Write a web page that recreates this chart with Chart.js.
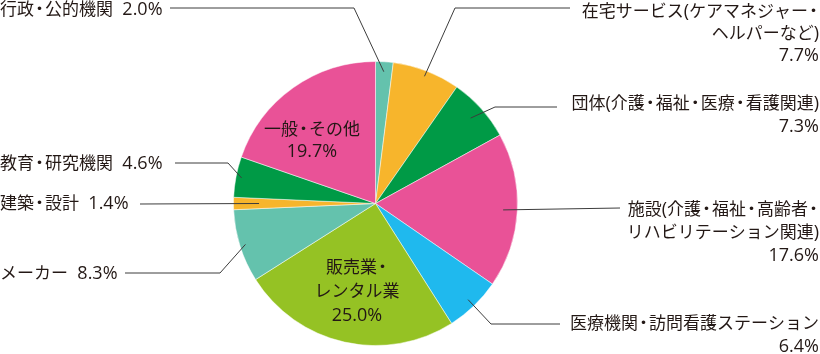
<!DOCTYPE html>
<html>
<head>
<meta charset="utf-8">
<script src="https://cdn.jsdelivr.net/npm/chart.js@4"></script>
<style>
  html, body { margin: 0; padding: 0; background: #fff; }
</style>
</head>
<body>
<canvas id="myChart1" width="820" height="354"></canvas>
<script>
// data (share of respondents, %)
const names = [
    ['行政・公的機関'],
    ['在宅サービス(ケアマネジャー・', 'ヘルパーなど)'],
    ['団体(介護・福祉・医療・看護関連)'],
    ['施設(介護・福祉・高齢者・', 'リハビリテーション関連)'],
    ['医療機関・訪問看護ステーション'],
    ['販売業・', 'レンタル業'],
    ['メーカー'],
    ['建築・設計'],
    ['教育・研究機関'],
    ['一般・その他']
];
const values = [2.0, 7.7, 7.3, 17.6, 6.4, 25.0, 8.3, 1.4, 4.6, 19.7];
const colors = ['#64c2ad', '#f7b52c', '#009a46', '#e95297', '#1fb9ee',
                '#95c224', '#64c2ad', '#f7b52c', '#009a46', '#e95297'];

// where each label goes and how its leader line bends
const labelLayout = [
    {x: 0,   y: 9,   align: 'left',  inline: true, rf: 0.93, path: [[354, 8], [170, 8]]},
    {x: 819, y: 11,  align: 'right', lh: 22, rf: 0.96, path: [[455, 8], [570, 8]]},
    {x: 819, y: 103, align: 'right', lh: 23, rf: 0.9, path: [[495, 107], [557, 107]]},
    {x: 819, y: 209, align: 'right', lh: 23, rf: 0.9, path: [[620, 208]]},
    {x: 819, y: 323, align: 'right', lh: 23, rf: 0.94, path: [[491, 324], [560, 324]]},
    {x: 357, y: 267, align: 'center', lh: 24},
    {x: 0,   y: 273, align: 'left', inline: true, rf: 0.96, path: [[220, 273], [125, 273]]},
    {x: 0,   y: 203, align: 'left', inline: true, rf: 0.82, path: [[140, 204]]},
    {x: 0,   y: 163, align: 'left', inline: true, rf: 0.96, path: [[228, 163], [175, 163]]},
    {x: 312, y: 129, align: 'center', lh: 22}
];

const CJK_FONT = '17px "Noto Sans CJK JP"';
const LATIN_FONT = '18px "Open Sans"';
const DOT_W = 11;

// split a label into latin / dot / japanese runs so each gets its own font
function splitRuns(text) {
    const out = [];
    const re = /([\x20-\x7E]+)|(・)|([^\x20-\x7E・]+)/g;
    let m;
    while ((m = re.exec(text))) {
        if (m[1]) out.push({t: m[1], f: LATIN_FONT});
        else if (m[2]) out.push({t: '・', f: CJK_FONT, dot: true});
        else out.push({t: m[3], f: CJK_FONT});
    }
    return out;
}

function drawMixed(c, text, x, y, align) {
    const rs = splitRuns(text);
    let total = 0;
    rs.forEach(r => {
        c.font = r.f;
        r.w = r.dot ? DOT_W : c.measureText(r.t).width;
        total += r.w;
    });
    let cx = x;
    if (align === 'right') cx = x - total;
    if (align === 'center') cx = x - total / 2;
    rs.forEach(r => {
        c.font = r.f;
        if (r.dot) {
            c.textAlign = 'center';
            c.fillText(r.t, cx + r.w / 2, y);
        } else {
            c.textAlign = 'left';
            c.fillText(r.t, cx, y);
        }
        cx += r.w;
    });
}

const pieLabels = {
    id: 'pieLabels',
    afterDraw(chart) {
        const c = chart.ctx;
        const arcs = chart.getDatasetMeta(0).data;
        c.save();
        c.fillStyle = '#231815';
        c.textBaseline = 'alphabetic';
        for (let i = 0; i < arcs.length; i++) {
            const a = arcs[i];
            const lay = labelLayout[i];
            const pct = values[i].toFixed(1) + '%';

            if (lay.path) {
                const mid = (a.startAngle + a.endAngle) / 2;
                const r = a.outerRadius * lay.rf;
                c.beginPath();
                c.moveTo(a.x + Math.cos(mid) * r, a.y + Math.sin(mid) * r);
                lay.path.forEach(p => c.lineTo(p[0], p[1]));
                c.strokeStyle = '#3c3c3c';
                c.lineWidth = 1;
                c.stroke();
            }

            let lines;
            if (lay.inline) {
                lines = [names[i][0] + '  ' + pct];
            } else {
                lines = names[i].concat([pct]);
            }
            for (let j = 0; j < lines.length; j++) {
                drawMixed(c, lines[j], lay.x, lay.y + 6 + j * (lay.lh || 23), lay.align);
            }
        }
        c.restore();
    }
};

const ctx = document.getElementById('myChart1');
const myChart1 = new Chart(ctx, {
    type: 'pie',
    data: {
        labels: names.map(n => n.join('')),
        datasets: [{
            data: values,
            backgroundColor: colors,
            borderColor: 'rgba(255,255,255,0.7)',
            borderWidth: 0.7
        }]
    },
    options: {
        responsive: false,
        animation: false,
        devicePixelRatio: 1,
        radius: 142,
        layout: {
            padding: {left: 233.5, right: 302.5, top: 61.5, bottom: 8.5}
        },
        plugins: {
            legend: {display: false},
            tooltip: {enabled: false}
        }
    },
    plugins: [pieLabels]
});
</script>
</body>
</html>
